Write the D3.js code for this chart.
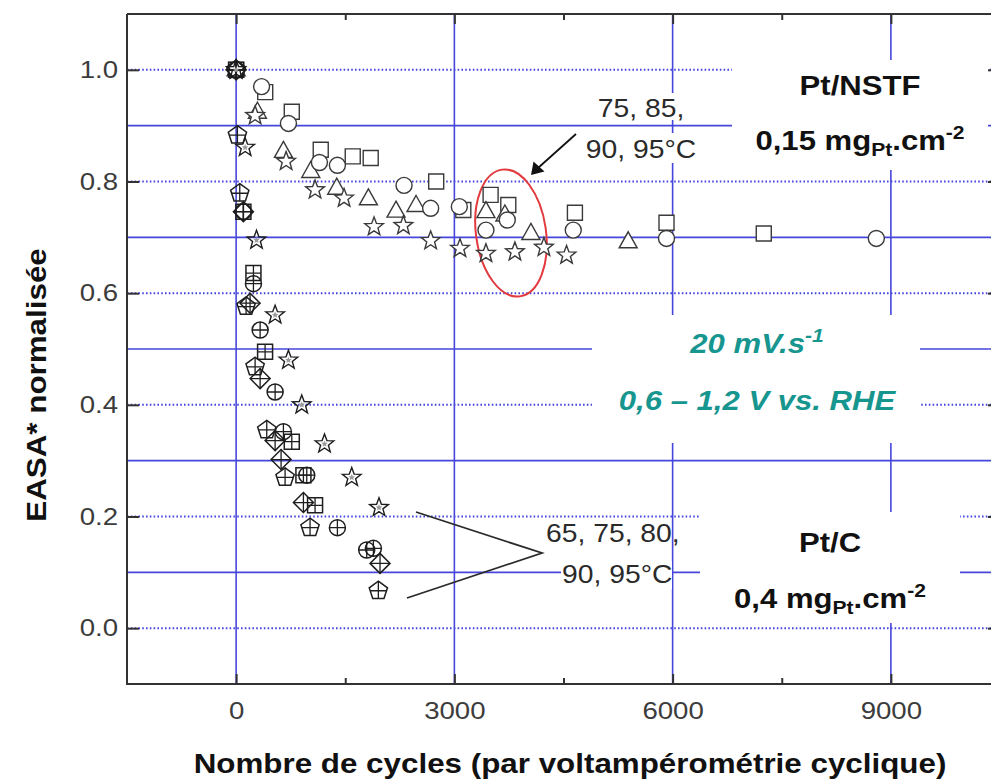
<!DOCTYPE html>
<html>
<head>
<meta charset="utf-8">
<script src="https://cdn.jsdelivr.net/npm/d3@7"></script>
<style>
  html, body { margin: 0; padding: 0; background: #fff; }
  svg { display: block; font-family: "Liberation Sans", Arial, Helvetica, sans-serif; }
</style>
</head>
<body>
<svg id="chart" width="991" height="781"></svg>
<script>
// ---- Axis ticks ----
const xMajorTicks = [0, 3000, 6000, 9000];
const xMinorTicks = [1500, 4500, 7500];
const yMajorTicks = [0.0, 0.2, 0.4, 0.6, 0.8, 1.0];
const ySolidGrid = [0.1, 0.3, 0.5, 0.7, 0.9];

// ---- Pt/NSTF (0,15 mg Pt/cm²) : open markers ----
const nstfSquareCycles = [0, 400, 765, 1163, 1603, 1850, 2750, 3123, 3498, 3741, 4657, 5916, 7253];
const nstfSquareEasa   = [1.00, 0.960, 0.925, 0.857, 0.845, 0.842, 0.800, 0.749, 0.776, 0.758, 0.744, 0.726, 0.707];
const nstfCircleCycles = [0, 350, 719, 1145, 1392, 2308, 2674, 3068, 3434, 3727, 4634, 5916, 8800];
const nstfCircleEasa   = [1.00, 0.970, 0.904, 0.834, 0.829, 0.793, 0.752, 0.755, 0.713, 0.731, 0.713, 0.698, 0.698];
const nstfTriangleCycles = [0, 293, 650, 1026, 1383, 1818, 2198, 2473, 3434, 3695, 4052, 5389];
const nstfTriangleEasa   = [1.00, 0.924, 0.854, 0.818, 0.788, 0.769, 0.747, 0.757, 0.746, 0.740, 0.707, 0.692];
const nstfStarCycles = [0, 261, 687, 1085, 1484, 1896, 2299, 2674, 3077, 3434, 3832, 4231, 4542];
const nstfStarEasa   = [1.00, 0.918, 0.836, 0.785, 0.770, 0.719, 0.721, 0.694, 0.680, 0.671, 0.674, 0.682, 0.668];

// ---- Pt/C (0,4 mg Pt/cm²) : crossed markers ----
const ptcSquareCycles = [0, 100, 238, 398, 765, 925, 1085];
const ptcSquareEasa   = [1.00, 0.746, 0.636, 0.495, 0.334, 0.274, 0.220];
const ptcCircleCycles = [0, 100, 238, 330, 536, 650, 971, 1392, 1795, 1887];
const ptcCircleEasa   = [1.00, 0.746, 0.617, 0.534, 0.423, 0.352, 0.274, 0.180, 0.140, 0.143];
const ptcDiamondCycles = [0, 100, 192, 330, 536, 618, 925, 1978];
const ptcDiamondEasa   = [1.00, 0.746, 0.582, 0.447, 0.336, 0.302, 0.225, 0.116];
const ptcPentagonCycles = [0, 18, 50, 137, 261, 421, 673, 1016, 1955];
const ptcPentagonEasa   = [1.00, 0.883, 0.779, 0.576, 0.468, 0.355, 0.270, 0.180, 0.067];
const ptcStarCycles = [0, 124, 280, 536, 719, 902, 1215, 1589, 1964];
const ptcStarEasa   = [1.00, 0.861, 0.695, 0.561, 0.480, 0.400, 0.330, 0.270, 0.216];

const series = [
  { shape: "square",   cross: false, xs: nstfSquareCycles,   ys: nstfSquareEasa },
  { shape: "triangle", cross: false, xs: nstfTriangleCycles, ys: nstfTriangleEasa },
  { shape: "star",     cross: false, xs: nstfStarCycles,     ys: nstfStarEasa },
  { shape: "circle",   cross: false, xs: nstfCircleCycles,   ys: nstfCircleEasa },
  { shape: "square",   cross: true,  xs: ptcSquareCycles,    ys: ptcSquareEasa },
  { shape: "circle",   cross: true,  xs: ptcCircleCycles,    ys: ptcCircleEasa },
  { shape: "diamond",  cross: true,  xs: ptcDiamondCycles,   ys: ptcDiamondEasa },
  { shape: "pentagon", cross: true,  xs: ptcPentagonCycles,  ys: ptcPentagonEasa },
  { shape: "dotstar",  cross: false, xs: ptcStarCycles,      ys: ptcStarEasa }
];

const svg = d3.select("#chart");
const W = 991, H = 781;
svg.append("rect").attr("width", W).attr("height", H).attr("fill", "#fff");

const x = d3.scaleLinear().domain([-1500, 10500]).range([127, 1000]);
const y = d3.scaleLinear().domain([-0.1, 1.1]).range([684, 14]);
const [x0, x1] = x.range();
const [yb, yt] = y.range();

const BLUE = "#4646dc";
const INK = "#2a2a2a";
const TEAL = "#17958f";
const SX = 1.11; // horizontal stretch of the lettering

// ---- grid ----
const grid = svg.append("g");
grid.selectAll(".gs").data(ySolidGrid).join("line")
  .attr("x1", x0).attr("x2", x1).attr("y1", d => y(d)).attr("y2", d => y(d))
  .attr("stroke", BLUE).attr("stroke-width", 1.6);
grid.selectAll(".gd").data(yMajorTicks).join("line")
  .attr("x1", x0).attr("x2", x1).attr("y1", d => y(d)).attr("y2", d => y(d))
  .attr("stroke", BLUE).attr("stroke-width", 2).attr("stroke-dasharray", "1.6,2.2");
grid.selectAll(".gv").data(xMajorTicks).join("line")
  .attr("x1", d => x(d)).attr("x2", d => x(d)).attr("y1", yt).attr("y2", yb)
  .attr("stroke", BLUE).attr("stroke-width", 1.6);

// ---- white panels behind the captions ----
const panels = [
  [732, 60, 256, 110],
  [592, 315, 328, 128],
  [700, 512, 260, 111]
];
svg.selectAll(".panel").data(panels).join("rect")
  .attr("x", d => d[0]).attr("y", d => d[1]).attr("width", d => d[2]).attr("height", d => d[3])
  .attr("fill", "#fff");

// ---- text helper: horizontally stretched label ----
function label(px, py, anchor, size, opts = {}) {
  const sx = opts.sx || SX;
  const rot = opts.rotate ? ` rotate(${opts.rotate})` : "";
  const g = svg.append("g").attr("transform", `translate(${px},${py})${rot} scale(${sx},1)`);
  return g.append("text").attr("text-anchor", anchor)
    .attr("font-size", size)
    .attr("font-weight", opts.weight || "normal")
    .attr("font-style", opts.style || "normal")
    .attr("fill", opts.fill || INK);
}
function parts(t, list) {
  list.forEach(p => {
    const s = t.append("tspan").text(p.text);
    if (p.size) s.attr("font-size", p.size);
    if (p.dy) s.attr("dy", p.dy);
  });
}

// ---- annotation text with tight white backing ----
svg.append("rect").attr("x", 595).attr("y", 93).attr("width", 92).attr("height", 27).attr("fill", "#fff");
svg.append("rect").attr("x", 586).attr("y", 133).attr("width", 112).attr("height", 30).attr("fill", "#fff");
svg.append("rect").attr("x", 561).attr("y", 561).attr("width", 111).attr("height", 28).attr("fill", "#fff");

label(641, 117, "middle", 25.5).text("75, 85,");
label(641, 158, "middle", 25.5).text("90, 95°C");
label(546, 542, "start", 25.5).text("65, 75, 80,");
label(562, 583, "start", 25.5).text("90, 95°C");

// bracket pointing at the Pt/C curves
svg.append("path")
  .attr("d", "M416,512L542,553L407,598")
  .attr("fill", "none").attr("stroke", INK).attr("stroke-width", 1.8);

// arrow pointing at the Pt/NSTF plateau
svg.append("line").attr("x1", 576).attr("y1", 134).attr("x2", 538).attr("y2", 168)
  .attr("stroke", "#111").attr("stroke-width", 1.8);
svg.append("path").attr("d", "M531,175L533.5,161.5L544.5,171.5Z").attr("fill", "#111");

// red ellipse around the plateau
svg.append("ellipse")
  .attr("cx", 0).attr("cy", 0).attr("rx", 35).attr("ry", 64)
  .attr("transform", "translate(511,233) rotate(-8)")
  .attr("fill", "none").attr("stroke", "#e23a3f").attr("stroke-width", 2);

// ---- captions ----
label(860, 95, "middle", 28, { weight: "bold", fill: "#111" }).text("Pt/NSTF");
parts(label(860, 150, "middle", 28, { weight: "bold", fill: "#111" }), [
  { text: "0,15 mg" }, { text: "Pt", size: 19, dy: 6 }, { text: ".cm", dy: -6 }, { text: "-2", size: 19, dy: -11 }
]);
parts(label(757, 353, "middle", 28, { weight: "bold", style: "italic", fill: TEAL }), [
  { text: "20 mV.s" }, { text: "-1", size: 19, dy: -11 }
]);
label(757, 410, "middle", 28, { weight: "bold", style: "italic", fill: TEAL }).text("0,6 – 1,2 V vs. RHE");
label(830, 552, "middle", 28, { weight: "bold", fill: "#111" }).text("Pt/C");
parts(label(830, 608, "middle", 28, { weight: "bold", fill: "#111" }), [
  { text: "0,4 mg" }, { text: "Pt", size: 19, dy: 6 }, { text: ".cm", dy: -6 }, { text: "-2", size: 19, dy: -11 }
]);

// ---- marker shapes ----
function polygon(n, R, rot) {
  const pts = d3.range(n).map(i => {
    const a = rot + i * 2 * Math.PI / n;
    return [R * Math.cos(a), R * Math.sin(a)];
  });
  return "M" + pts.map(p => p[0].toFixed(2) + "," + p[1].toFixed(2)).join("L") + "Z";
}
function starPath(R, r) {
  const pts = d3.range(10).map(i => {
    const a = -Math.PI / 2 + i * Math.PI / 5;
    const rr = i % 2 === 0 ? R : r;
    return [rr * Math.cos(a), rr * Math.sin(a)];
  });
  return "M" + pts.map(p => p[0].toFixed(2) + "," + p[1].toFixed(2)).join("L") + "Z";
}
const shapes = {
  square:   { d: "M-7.5,-7.5H7.5V7.5H-7.5Z", cross: "M0,-7.5V7.5M-7.5,0H7.5" },
  circle:   { d: "M8,0A8,8 0 1,1 -8,0A8,8 0 1,1 8,0Z", cross: "M0,-8V8M-8,0H8" },
  triangle: { d: "M0,-10L9,6L-9,6Z" },
  star:     { d: starPath(9.8, 4.1) },
  dotstar:  { d: starPath(9.8, 4.1) },
  diamond:  { d: "M0,-10L10,0L0,10L-10,0Z", cross: "M0,-10V10M-10,0H10" },
  pentagon: { d: polygon(5, 9.6, -Math.PI / 2), cross: "M0,-9.6V7.8M-8.1,0H8.1" }
};

const marks = svg.append("g");
series.forEach(s => {
  const pts = s.xs.map((c, i) => ({ c, e: s.ys[i] }));
  const g = marks.append("g");
  const m = g.selectAll("g").data(pts).join("g")
    .attr("transform", d => `translate(${x(d.c)},${y(d.e)})`);
  const hollow = s.cross || s.shape === "dotstar";
  m.append("path").attr("d", shapes[s.shape].d)
    .attr("fill", hollow ? "none" : "#fff")
    .attr("stroke", hollow ? "#1e1e1e" : "#3a3a3a")
    .attr("stroke-width", s.cross ? 1.5 : 1.4);
  if (s.cross) {
    m.append("path").attr("d", shapes[s.shape].cross)
      .attr("fill", "none").attr("stroke", "#1e1e1e").attr("stroke-width", 1.3);
  }
  if (s.shape === "dotstar") {
    m.append("path").attr("d", starPath(3.4, 1.6)).attr("fill", "#9a9a9a");
  }
});

// ---- frame and axes ----
const axes = svg.append("g").attr("stroke", "#333").attr("stroke-width", 2).attr("fill", "none");
axes.append("path").attr("d", `M${x0},${yt}H${x1}M${x0},${yt}V${yb}H${x1}M${x1},${yt}V${yb}`);

const bottomAxis = svg.append("g").attr("transform", `translate(0,${yb})`)
  .call(d3.axisBottom(x).tickValues(xMajorTicks).tickSize(-10).tickPadding(18).tickFormat(d3.format("d")));
svg.append("g").attr("transform", `translate(0,${yb})`)
  .call(d3.axisBottom(x).tickValues(xMinorTicks).tickSize(-6).tickFormat(""));
svg.append("g").attr("transform", `translate(0,${yt})`)
  .call(d3.axisTop(x).tickValues(xMajorTicks).tickSize(-10).tickFormat(""));
svg.append("g").attr("transform", `translate(0,${yt})`)
  .call(d3.axisTop(x).tickValues(xMinorTicks).tickSize(-6).tickFormat(""));
const leftAxis = svg.append("g").attr("transform", `translate(${x0},0)`)
  .call(d3.axisLeft(y).tickValues(yMajorTicks).tickSize(-12).tickPadding(9).tickFormat(d3.format(".1f")));
svg.append("g").attr("transform", `translate(${x1},0)`)
  .call(d3.axisRight(y).tickValues(yMajorTicks).tickSize(-12).tickFormat(""));

svg.selectAll(".domain").remove();
svg.selectAll(".tick line").attr("stroke", "#333").attr("stroke-width", 2);
svg.selectAll(".tick text").attr("font-family", "'Liberation Sans', Arial, sans-serif")
  .attr("font-size", 24).attr("fill", "#3c3c3c");
bottomAxis.selectAll(".tick text").attr("dy", "0.71em")
  .attr("transform", "scale(1.15,1)");
leftAxis.selectAll(".tick text").each(function () {
  const t = d3.select(this);
  const tx = +t.attr("x");
  t.attr("x", 0).attr("transform", `translate(${tx},0) scale(1.15,1)`);
});

// ---- axis titles ----
label(570, 773, "middle", 28, { weight: "bold", fill: "#111", sx: 1.12 })
  .text("Nombre de cycles (par voltampérométrie cyclique)");
label(46, 385, "middle", 28, { weight: "bold", fill: "#111", rotate: -90, sx: 1.12 })
  .text("EASA* normalisée");
</script>
</body>
</html>
